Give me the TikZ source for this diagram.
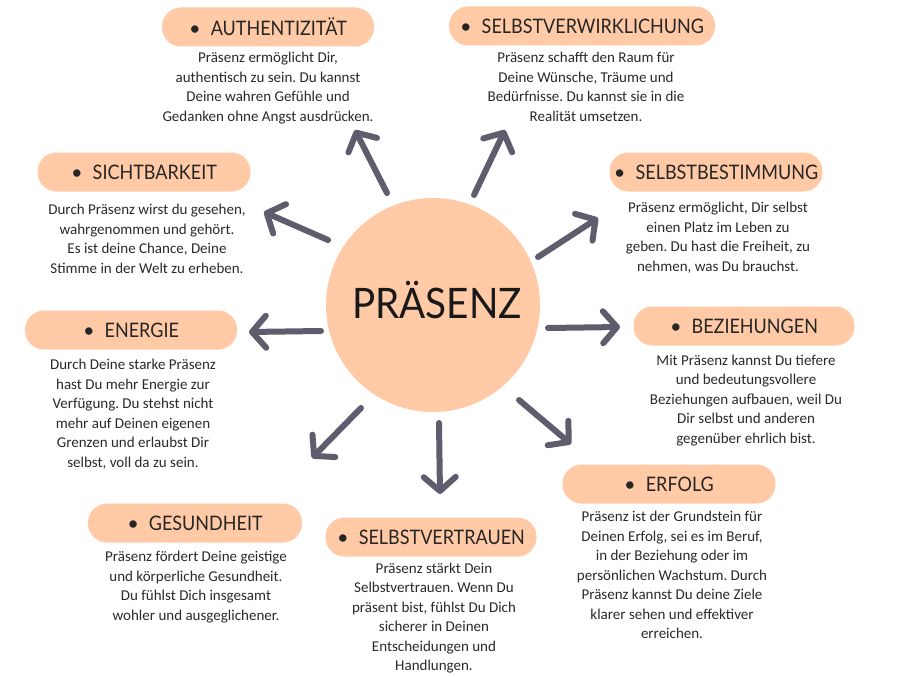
\documentclass[tikz,border=0pt]{standalone}
\usepackage{fontspec}
\setmainfont{Carlito}
\newfontfamily\headfont{Lato}
\usetikzlibrary{arrows.meta}
\definecolor{peach}{HTML}{FFCAA5}
\definecolor{arrowgray}{HTML}{5E5D6D}
\definecolor{bodytext}{HTML}{2A2A2A}
\frenchspacing
\tikzset{
  pill/.style={fill=peach, rounded corners=19pt, minimum height=39pt, inner sep=0pt, text=black!85,
    font=\headfont\fontsize{20}{24}\selectfont},
  bodytxt/.style={align=center, text=bodytext, inner sep=0pt, font=\fontsize{15}{19.5}\selectfont},
  ray/.style={draw=arrowgray, line width=6pt, line cap=round,
    -{Straight Barb[length=14pt,width=32pt,line width=6pt,round]}},
}
\newcommand{\hd}[1]{\textbullet\hspace{10pt}\scalebox{0.9}[1]{#1}}
\begin{document}
\begin{tikzpicture}[x=1pt,y=-1pt]
\useasboundingbox (0,0) rectangle (903,677);
\fill[white] (0,0) rectangle (903,677);

% center
\node[circle, fill=peach, minimum size=214pt, inner sep=0pt] (c) at (433,305) {};
\node[font=\headfont\fontsize{42}{48}\selectfont, text=black!90] (ct) at (437,300) {\scalebox{0.92}[1]{PRÄSENZ}};

% pills
\node[pill, minimum width=212pt] (p1) at (268,27) {\hd{AUTHENTIZITÄT}};
\node[pill, minimum width=266pt] (p2) at (582,26) {\hd{SELBSTVERWIRKLICHUNG}};
\node[pill, minimum width=213pt] (p3) at (716,172) {\hd{SELBSTBESTIMMUNG}};
\node[pill, minimum width=213pt] (p4) at (144,172) {\hd{SICHTBARKEIT}};
\node[pill, minimum width=212pt] (p5) at (131,330) {\hd{ENERGIE}};
\node[pill, minimum width=221pt] (p6) at (744,326) {\hd{BEZIEHUNGEN}};
\node[pill, minimum width=213pt] (p7) at (669,484) {\hd{ERFOLG}};
\node[pill, minimum width=214pt] (p8) at (195,523) {\hd{GESUNDHEIT}};
\node[pill, minimum width=211pt] (p9) at (431,537) {\hd{SELBSTVERTRAUEN}};

% body texts
\node[bodytxt] (b1) at (268,88) {Präsenz ermöglicht Dir,\\authentisch zu sein. Du kannst\\Deine wahren Gefühle und\\Gedanken ohne Angst ausdrücken.};
\node[bodytxt] (b2) at (586,87) {Präsenz schafft den Raum für\\Deine Wünsche, Träume und\\Bedürfnisse. Du kannst sie in die\\Realität umsetzen.};
\node[bodytxt] (b3) at (718,238) {Präsenz ermöglicht, Dir selbst\\einen Platz im Leben zu\\geben. Du hast die Freiheit, zu\\nehmen, was Du brauchst.};
\node[bodytxt] (b4) at (147,239) {Durch Präsenz wirst du gesehen,\\wahrgenommen und gehört.\\Es ist deine Chance, Deine\\Stimme in der Welt zu erheben.};
\node[bodytxt] (b5) at (133,414) {Durch Deine starke Präsenz\\hast Du mehr Energie zur\\Verfügung. Du stehst nicht\\mehr auf Deinen eigenen\\Grenzen und erlaubst Dir\\selbst, voll da zu sein.};
\node[bodytxt] (b6) at (746,400.5) {Mit Präsenz kannst Du tiefere\\und bedeutungsvollere\\Beziehungen aufbauen, weil Du\\Dir selbst und anderen\\gegenüber ehrlich bist.};
\node[bodytxt] (b7) at (672,575) {Präsenz ist der Grundstein für\\Deinen Erfolg, sei es im Beruf,\\in der Beziehung oder im\\persönlichen Wachstum. Durch\\Präsenz kannst Du deine Ziele\\klarer sehen und effektiver\\erreichen.};
\node[bodytxt] (b8) at (196,587) {Präsenz fördert Deine geistige\\und körperliche Gesundheit.\\Du fühlst Dich insgesamt\\wohler und ausgeglichener.};
\node[bodytxt] (b9) at (434,618) {Präsenz stärkt Dein\\Selbstvertrauen. Wenn Du\\präsent bist, fühlst Du Dich\\sicherer in Deinen\\Entscheidungen und\\Handlungen.};

% arrow end points
\coordinate (t1) at (387,193); \coordinate (h1) at (355,130);
\coordinate (t2) at (474,195); \coordinate (h2) at (505,130);
\coordinate (t3) at (538,257); \coordinate (h3) at (598,218);
\coordinate (t4) at (328,240); \coordinate (h4) at (264,212);
\coordinate (t5) at (321,331); \coordinate (h5) at (249,332);
\coordinate (t6) at (548,328); \coordinate (h6) at (620,327);
\coordinate (t7) at (519,400); \coordinate (h7) at (571,444);
\coordinate (t8) at (361,408); \coordinate (h8) at (312,458);
\coordinate (t9) at (439,423); \coordinate (h9) at (440,494);

\foreach \i in {1,...,9} { \draw[ray] (t\i) -- (h\i); }
\end{tikzpicture}
\end{document}
